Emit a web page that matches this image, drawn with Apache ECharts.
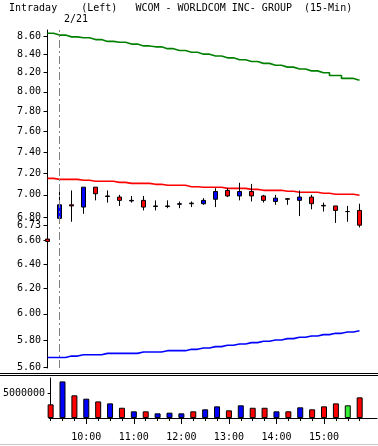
<!DOCTYPE html>
<html>
<head>
<meta charset="utf-8">
<script src="https://cdn.jsdelivr.net/npm/echarts@6/dist/echarts.min.js"></script>
<style>
html, body { margin: 0; padding: 0; background: #fff; }
#chart { width: 378px; height: 446px; }
</style>
</head>
<body>
<div id="chart"></div>
<script>
// 15 min bars, index 0 = last bar of the previous day
var opens  = [6.61, 6.79, 6.91, 6.89, 7.07, 6.985, 6.98, 6.945, 6.95, 6.895, 6.895, 6.915, 6.925, 6.92,
              6.96, 7.04, 6.99, 7.03, 6.99, 6.94, 6.965, 6.95, 6.98, 6.905, 6.90, 6.85, 6.86];
var closes = [6.59, 6.91, 6.90, 7.07, 7.01, 6.99, 6.95, 6.95, 6.89, 6.90, 6.90, 6.92, 6.92, 6.95,
              7.03, 6.99, 7.03, 6.99, 6.95, 6.97, 6.96, 6.98, 6.92, 6.90, 6.86, 6.85, 6.73];
var lows   = [6.27, 6.75, 6.76, 6.83, 6.95, 6.93, 6.90, 6.93, 6.86, 6.86, 6.88, 6.88, 6.89, 6.91,
              6.89, 6.98, 6.95, 6.94, 6.93, 6.91, 6.91, 6.81, 6.87, 6.85, 6.75, 6.76, 6.71];
var highs  = [6.67, 7.04, 7.04, 7.07, 7.07, 7.04, 7.00, 6.99, 6.99, 6.95, 6.95, 6.94, 6.94, 6.97,
              7.06, 7.06, 7.11, 7.10, 7.00, 7.00, 6.97, 7.04, 7.00, 6.93, 6.90, 6.90, 6.92];
var volumes = [2800000, 7500000, 4650000, 3960000, 3400000, 3000000, 2100000, 1370000, 1370000,
               960000, 1090000, 960000, 1370000, 1780000, 2390000, 1570000, 2600000, 2100000,
               2100000, 1370000, 1370000, 2190000, 1780000, 2390000, 3000000, 2600000, 4230000];
// bollinger bands
var bandUpper = [8.63, 8.61, 8.59, 8.58, 8.56, 8.54, 8.53, 8.51, 8.49, 8.48, 8.46, 8.44, 8.42, 8.40,
                 8.38, 8.36, 8.34, 8.32, 8.30, 8.28, 8.26, 8.24, 8.22, 8.20, 8.17, 8.14, 8.12];
var bandMid   = [7.151, 7.142, 7.142, 7.133, 7.124, 7.124, 7.114, 7.105, 7.105, 7.096, 7.087, 7.087,
                 7.074, 7.069, 7.069, 7.059, 7.059, 7.050, 7.041, 7.041, 7.032, 7.023, 7.023, 7.014,
                 7.005, 7.005, 6.996];
var bandLower = [5.67, 5.67, 5.68, 5.69, 5.69, 5.70, 5.70, 5.70, 5.71, 5.71, 5.72, 5.72, 5.73, 5.74,
                 5.75, 5.76, 5.77, 5.78, 5.79, 5.80, 5.81, 5.82, 5.83, 5.84, 5.85, 5.86, 5.87];

var priceTicks = [8.6, 8.4, 8.2, 8.0, 7.8, 7.6, 7.4, 7.2, 7.0, 6.8, 6.6, 6.4, 6.2, 6.0, 5.8, 5.6];
var volumeTicks = [5000000];
var hourIdx = [3, 7, 11, 15, 19, 23];
var hourLabels = ['10:00', '11:00', '12:00', '13:00', '14:00', '15:00'];
var dayStartIdx = 1;
var dayLabel = '2/21';
var titleText = 'Intraday    (Left)   WCOM - WORLDCOM INC- GROUP  (15-Min)';

var MONO = '"DejaVu Sans Mono", "Liberation Mono", monospace';
var UP = '#0000ff', DOWN = '#ff0000', FLAT = '#33ee33';
// 12px per bar, bar centres on half pixels
var X_MIN = -0.125, X_MAX = 27.4583;
var ln = Math.log;

var lastClose = closes[closes.length - 1];
var yTickVals = priceTicks.map(ln).concat([ln(lastClose)]);
var barIdx = closes.map(function (c, i) { return i; });

var candleData = opens.map(function (o, i) {
  return [i, ln(o), ln(closes[i]), ln(lows[i]), ln(highs[i])];
});
function bandData(arr) {
  return arr.map(function (v, i) { return [i, ln(v)]; });
}
var volData = volumes.map(function (v, i) {
  var c = closes[i] > opens[i] ? UP : (closes[i] < opens[i] ? DOWN : FLAT);
  return { value: [i, v], itemStyle: { color: c } };
});

function bandSeries(name, arr, color) {
  return {
    name: name, type: 'line', xAxisIndex: 0, yAxisIndex: 0,
    step: 'middle', symbol: 'none', data: bandData(arr),
    lineStyle: { color: color, width: 1.6 }, z: 2
  };
}

var myChart = echarts.init(document.getElementById('chart'));
myChart.setOption({
  animation: false,
  title: {
    text: titleText, left: 9, top: 3, padding: 0,
    textStyle: { fontFamily: MONO, fontSize: 10, fontWeight: 'normal', color: '#000' }
  },
  grid: [
    { left: 46, right: 1, top: 30, bottom: 78 },
    { left: 46, right: 1, top: 378, bottom: 28 }
  ],
  xAxis: [
    { gridIndex: 0, type: 'value', min: X_MIN, max: X_MAX, show: false },
    {
      gridIndex: 1, type: 'value', min: X_MIN, max: X_MAX, position: 'bottom',
      axisLine: { show: true, lineStyle: { color: '#000', width: 1 } },
      axisTick: { show: true, customValues: barIdx, length: 3, lineStyle: { color: '#000' } },
      axisLabel: { show: false },
      splitLine: { show: false }
    },
    {
      gridIndex: 1, type: 'value', min: X_MIN, max: X_MAX, position: 'bottom',
      axisLine: { show: false },
      axisTick: { show: true, customValues: hourIdx, length: 6, lineStyle: { color: '#000' } },
      axisLabel: {
        customValues: hourIdx, margin: 14, color: '#000', fontFamily: MONO, fontSize: 10,
        formatter: function (v) { return hourLabels[hourIdx.indexOf(Math.round(v))]; }
      },
      splitLine: { show: false }
    }
  ],
  yAxis: [
    {
      gridIndex: 0, type: 'value', min: ln(5.593), max: ln(8.667),
      axisLine: { show: true, lineStyle: { color: '#000', width: 1 } },
      axisTick: { show: true, customValues: yTickVals, length: 4, lineStyle: { color: '#000' } },
      axisLabel: {
        customValues: yTickVals, margin: 5, color: '#000', fontFamily: MONO, fontSize: 10,
        formatter: function (v) {
          var s = Math.exp(v).toFixed(2);
          return Math.abs(v - ln(lastClose)) < 1e-9 ? '{last|' + s + '}' : s;
        },
        rich: { last: { backgroundColor: '#fff', color: '#000', fontFamily: MONO, fontSize: 10 } }
      },
      splitLine: { show: false }
    },
    {
      gridIndex: 1, type: 'value', min: 0, max: 8200000,
      axisLine: { show: true, lineStyle: { color: '#000', width: 1 } },
      axisTick: { show: true, customValues: volumeTicks, length: 3, lineStyle: { color: '#000' } },
      axisLabel: {
        customValues: volumeTicks, margin: 4, color: '#000', fontFamily: MONO, fontSize: 10,
        formatter: function (v) { return String(v); }
      },
      splitLine: { show: false }
    }
  ],
  series: [
    bandSeries('upper', bandUpper, '#008000'),
    bandSeries('mid', bandMid, '#ff0000'),
    bandSeries('lower', bandLower, '#0000ff'),
    {
      name: 'price', type: 'candlestick', xAxisIndex: 0, yAxisIndex: 0,
      barWidth: 4, data: candleData, z: 3,
      itemStyle: {
        color: UP, color0: DOWN, borderColor: '#000', borderColor0: '#000',
        borderColorDoji: '#000', borderWidth: 1
      },
      markLine: {
        silent: true, symbol: ['none', 'none'], label: { show: false },
        lineStyle: { color: '#808080', width: 1, type: [8, 3, 2, 3] },
        data: [{ xAxis: dayStartIdx }]
      }
    },
    {
      name: 'volume', type: 'bar', xAxisIndex: 1, yAxisIndex: 1,
      barWidth: 6, data: volData,
      itemStyle: { borderColor: '#000', borderWidth: 1 }
    }
  ],
  graphic: [
    { type: 'text', left: 64, top: 14, style: { text: dayLabel, fontFamily: MONO, fontSize: 10, fill: '#000' } },
    { type: 'line', shape: { x1: 0, y1: 373.5, x2: 378, y2: 373.5 }, style: { stroke: '#000', lineWidth: 1 } },
    { type: 'line', shape: { x1: 0, y1: 375.5, x2: 378, y2: 375.5 }, style: { stroke: '#000', lineWidth: 1 } },
    { type: 'line', shape: { x1: 0, y1: 444.5, x2: 378, y2: 444.5 }, style: { stroke: '#c8c8c8', lineWidth: 1 } }
  ]
});
</script>
</body>
</html>
